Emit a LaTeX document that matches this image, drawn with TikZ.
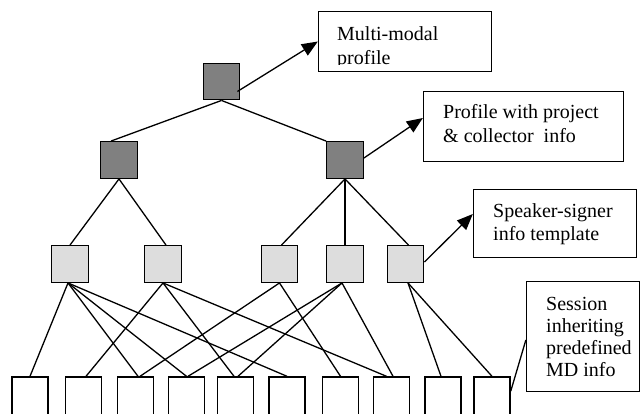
\documentclass[tikz,border=0pt]{standalone}
\usepackage{fontspec}
\setmainfont{Liberation Serif}
\usetikzlibrary{arrows.meta}
\definecolor{darkfill}{HTML}{808080}
\definecolor{lightfill}{HTML}{DDDDDD}
\begin{document}
\begin{tikzpicture}[x=1pt,y=-1pt,
  sq/.style={draw=black, line width=1.4pt, minimum size=36.5pt, inner sep=0pt},
  darksq/.style={sq, fill=darkfill},
  lightsq/.style={sq, fill=lightfill},
  leaf/.style={draw=black, line width=1.4pt, fill=white, minimum width=36pt, minimum height=46pt, inner sep=0pt},
  tbox/.style={draw=black, line width=1.3pt, fill=white, inner sep=0pt},
  txt/.style={anchor=north west, align=left, inner sep=0pt, font=\fontsize{20}{23.5}\selectfont},
  ln/.style={line width=1.3pt},
  arr/.style={line width=1.3pt, -{Triangle[length=16pt,width=13pt]}}
]
\useasboundingbox (0,0) rectangle (642,413);
% squares
\node[darksq] (t) at (221.5,81.5) {};
\node[darksq] (d1) at (119,160) {};
\node[darksq] (d2) at (345,160) {};
\node[lightsq] (l1) at (70,264) {};
\node[lightsq] (l2) at (163,264) {};
\node[lightsq] (l3) at (279.5,264) {};
\node[lightsq] (l4) at (345,264) {};
\node[lightsq] (l5) at (405.5,264) {};
% leaves
\node[leaf] (b1) at (30,400) {};
\node[leaf] (b2) at (83.5,400) {};
\node[leaf] (b3) at (135.5,400) {};
\node[leaf] (b4) at (186.5,400) {};
\node[leaf] (b5) at (235.5,400) {};
\node[leaf] (b6) at (287,400) {};
\node[leaf] (b7) at (340.5,400) {};
\node[leaf] (b8) at (391.5,400) {};
\node[leaf] (b9) at (443,400) {};
\node[leaf] (b10) at (492,400) {};
% text boxes
\node[tbox, minimum width=173pt, minimum height=60pt] (mm) at (405,41.5) {};
\begin{scope}
  \clip (mm.north west) rectangle (492,64.5);
  \node[txt, font=\fontsize{20}{24}\selectfont] (mmt) at (337,25) {\rule{0pt}{15pt}Multi-modal\\profile};
\end{scope}
\node[tbox, minimum width=200pt, minimum height=70pt] (pb) at (523.5,126.5) {};
\node[txt, font=\fontsize{20}{24}\selectfont] (pbt) at (443,103) {\rule{0pt}{15pt}Profile with project\\\& collector\ \ info};
\node[tbox, minimum width=163pt, minimum height=68pt] (spk) at (555,223.5) {};
\node[txt] (spkt) at (493,202) {\rule{0pt}{15pt}Speaker-signer\\info template};
\node[tbox, minimum width=113pt, minimum height=110pt] (ses) at (583,336.5) {};
\node[txt, font=\fontsize{20}{22}\selectfont] (sest) at (546,295) {\rule{0pt}{15pt}Session\\inheriting\\predefined\\MD info};
% tree lines
\draw[ln] (t.south) -- ([xshift=-8pt]d1.north);
\draw[ln] (t.south) -- (d2.north west);
\draw[ln] (d1.south) -- (l1.north);
\draw[ln] (d1.south) -- ([xshift=3pt]l2.north);
\draw[ln] (d2.south) -- ([xshift=2pt]l3.north);
\draw[ln] (d2.south) -- (l4.north);
\draw[ln] (d2.south) -- ([xshift=3pt]l5.north);
% light to leaves
\draw[ln] ([xshift=-2pt]l1.south) -- (b1.north);
\draw[ln] ([xshift=-2pt]l1.south) -- ([xshift=2.5pt]b3.north);
\draw[ln] ([xshift=-2pt]l1.south) -- (b4.north);
\draw[ln] ([xshift=-2pt]l1.south) -- (b6.north);
\draw[ln] (l2.south) -- ([xshift=2.5pt]b2.north);
\draw[ln] (l2.south) -- ([xshift=-1.5pt]b5.north);
\draw[ln] (l2.south) -- ([xshift=-5pt]b8.north);
\draw[ln] (l3.south) -- ([xshift=4.5pt]b3.north);
\draw[ln] (l3.south) -- (b7.north);
\draw[ln] ([xshift=-3pt]l4.south) -- ([xshift=1.5pt]b4.north);
\draw[ln] ([xshift=-3pt]l4.south) -- ([xshift=2.5pt]b5.north);
\draw[ln] ([xshift=-3pt]l4.south) -- ([xshift=1.5pt]b8.north);
\draw[ln] ([xshift=2.5pt]l5.south) -- ([xshift=-2pt]b9.north);
\draw[ln] ([xshift=2.5pt]l5.south) -- (b10.north);
\draw[ln] ([yshift=-15pt]b10.north east) -- ([yshift=-3.5pt]ses.west);
% arrows
\draw[arr] ([xshift=-3pt,yshift=9pt]t.south east) -- (mm.west);
\draw[arr] ([yshift=2pt]d2.east) -- ([yshift=8.5pt]pb.west);
\draw[arr] ([yshift=2pt]l5.east) -- ([yshift=9.5pt]spk.west);
\end{tikzpicture}
\end{document}
